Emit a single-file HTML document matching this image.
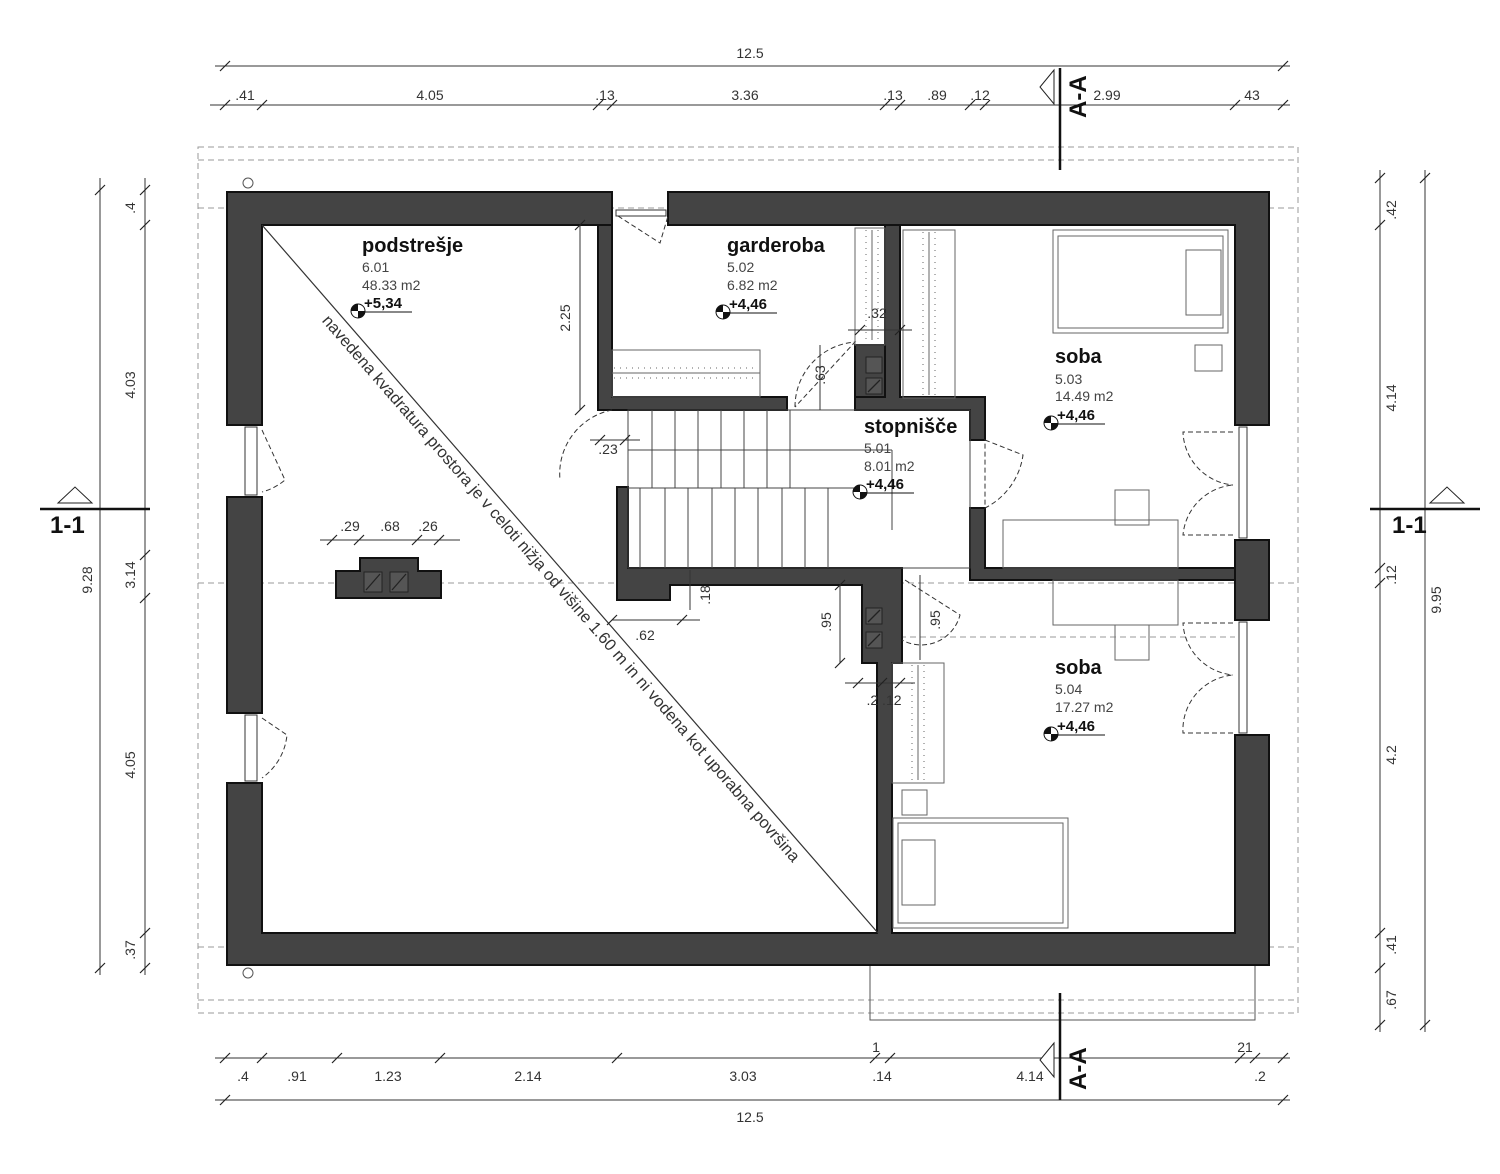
<!DOCTYPE html>
<html><head><style>body{margin:0;background:#fff}svg{display:block}</style></head><body>
<svg width="1500" height="1174" viewBox="0 0 1500 1174" xmlns="http://www.w3.org/2000/svg" font-family="Liberation Sans, sans-serif">
<rect width="1500" height="1174" fill="#fff"/>
<g fill="none" stroke="#999" stroke-width="1" stroke-dasharray="6,4">
<rect x="198" y="147" width="1100" height="866"/>
<line x1="198" y1="160" x2="1298" y2="160"/>
<line x1="198" y1="1000" x2="1298" y2="1000"/>
<line x1="198" y1="208" x2="1298" y2="208"/>
<line x1="198" y1="947" x2="1298" y2="947"/>
<line x1="198" y1="583" x2="1298" y2="583"/>
<line x1="900" y1="637" x2="1235" y2="637"/>
</g>
<circle cx="248" cy="183" r="5" fill="none" stroke="#555"/>
<circle cx="248" cy="973" r="5" fill="none" stroke="#555"/>
<rect x="870" y="965" width="385" height="55" fill="none" stroke="#555"/>
<g fill="#444" stroke="#111" stroke-width="2">
<path d="M227 192 H612 V225 H262 V425 H227 Z"/>
<path d="M668 192 H1269 V425 H1235 V225 H668 Z"/>
<path d="M227 497 H262 V713 H227 Z"/>
<path d="M227 783 H262 V933 H877 V663 H862 V585 H670 V600 H617 V487 H628 V568 H902 V663 H892 V933 H1235 V735 H1269 V965 H227 Z"/>
<path d="M1235 540 H1269 V620 H1235 Z"/>
<path d="M598 225 H612 V397 H787 V410 H598 Z"/>
<path d="M855 397 H885 V225 H900 V397 H985 V440 H970 V410 H855 Z"/>
<path d="M970 508 H985 V568 H1235 V580 H970 Z"/>
<path d="M336 571 H360 V558 H418 V571 H441 V598 H336 Z"/>
<path d="M855 345 H885 V397 H855 Z"/>
</g>
<g fill="#555" stroke="#222">
<rect x="364" y="572" width="18" height="20"/><rect x="390" y="572" width="18" height="20"/>
<rect x="866" y="357" width="16" height="16"/><rect x="866" y="378" width="16" height="16"/>
<rect x="866" y="608" width="16" height="16"/><rect x="866" y="632" width="16" height="16"/>
</g>
<g stroke="#222" stroke-width="1.3">
<line x1="366" y1="590" x2="380" y2="574"/><line x1="392" y1="590" x2="406" y2="574"/>
<line x1="868" y1="392" x2="880" y2="380"/><line x1="868" y1="622" x2="880" y2="610"/><line x1="868" y1="646" x2="880" y2="634"/>
</g>
<g fill="#fff" stroke="#333" stroke-width="1">
<rect x="245" y="427" width="12" height="68"/><rect x="245" y="715" width="12" height="66"/>
<rect x="616" y="210" width="50" height="6"/>
<rect x="1239" y="427" width="8" height="111"/><rect x="1239" y="622" width="8" height="111"/>
</g>
<g fill="none" stroke="#333" stroke-width="1" stroke-dasharray="5,3">
<path d="M262 430 L285 480 A60 60 0 0 1 262 492"/>
<path d="M262 718 L287 735 A60 60 0 0 1 262 778"/>
<path d="M618 216 L660 243 L668 216"/>
<path d="M795 407 A65 65 0 0 1 855 342 L795 407"/>
<path d="M612 410 A65 65 0 0 0 560 480"/>
<path d="M985 440 L1023 455 A70 70 0 0 1 985 508 Z"/>
<path d="M1233 432 H1183 A55 55 0 0 0 1233 485"/>
<path d="M1233 535 H1183 A55 55 0 0 1 1233 485"/>
<path d="M1233 623 H1183 A55 55 0 0 0 1233 675"/>
<path d="M1233 733 H1183 A55 55 0 0 1 1233 675"/>
<path d="M905 580 L960 615 A40 40 0 0 1 902 640"/>
</g>
<g fill="none" stroke="#444" stroke-width="1">
<rect x="628" y="410" width="342" height="158"/>
<line x1="628" y1="488" x2="860" y2="488"/>
<path d="M652 410V488M675 410V488M698 410V488M721 410V488M744 410V488M767 410V488M790 410V488"/>
<path d="M640 488V568M665 488V568M688 488V568M712 488V568M735 488V568M758 488V568M782 488V568M805 488V568M828 488V568"/>
<line x1="628" y1="450" x2="892" y2="450"/><line x1="892" y1="450" x2="892" y2="530"/>
</g>
<g fill="none" stroke="#666" stroke-width="1">
<rect x="612" y="350" width="148" height="47"/><line x1="612" y1="373" x2="760" y2="373"/>
<rect x="855" y="228" width="30" height="117"/><line x1="872" y1="230" x2="872" y2="340"/>
<rect x="903" y="230" width="52" height="168"/><line x1="929" y1="232" x2="929" y2="395"/>
<rect x="1053" y="230" width="175" height="103"/><rect x="1058" y="236" width="165" height="92"/>
<rect x="1186" y="250" width="35" height="65"/><rect x="1195" y="345" width="27" height="26"/>
<rect x="1003" y="520" width="175" height="48"/><rect x="1115" y="490" width="34" height="35"/>
<rect x="1053" y="580" width="125" height="45"/><rect x="1115" y="625" width="34" height="35"/>
<rect x="892" y="663" width="52" height="120"/><line x1="918" y1="665" x2="918" y2="780"/>
<rect x="902" y="790" width="25" height="25"/>
<rect x="893" y="818" width="175" height="110"/><rect x="898" y="823" width="165" height="100"/>
<rect x="902" y="840" width="33" height="65"/>
</g>
<g stroke="#666" stroke-width="1" stroke-dasharray="1,5" >
<line x1="866" y1="230" x2="866" y2="340"/><line x1="878" y1="230" x2="878" y2="340"/>
<line x1="923" y1="232" x2="923" y2="395"/><line x1="935" y1="232" x2="935" y2="395"/>
<line x1="912" y1="665" x2="912" y2="780"/><line x1="924" y1="665" x2="924" y2="780"/>
<line x1="614" y1="368" x2="758" y2="368"/><line x1="614" y1="378" x2="758" y2="378"/>
</g>
<line x1="262" y1="225" x2="878" y2="933" stroke="#333" stroke-width="1.2"/>
<text x="557" y="592" font-size="16.5" fill="#333" text-anchor="middle" transform="rotate(49 557 592)">navedena kvadratura prostora je v celoti nižja od višine 1.60 m in ni vodena kot uporabna površina</text>
<g fill="#111">
<text x="362" y="252" font-size="20" font-weight="bold">podstrešje</text>
<text x="362" y="272" font-size="14" fill="#444">6.01</text>
<text x="362" y="290" font-size="14" fill="#444">48.33 m2</text>
<text x="364" y="308" font-size="15" font-weight="bold">+5,34</text>
<text x="727" y="252" font-size="20" font-weight="bold">garderoba</text>
<text x="727" y="272" font-size="14" fill="#444">5.02</text>
<text x="727" y="290" font-size="14" fill="#444">6.82 m2</text>
<text x="729" y="309" font-size="15" font-weight="bold">+4,46</text>
<text x="864" y="433" font-size="20" font-weight="bold">stopnišče</text>
<text x="864" y="453" font-size="14" fill="#444">5.01</text>
<text x="864" y="471" font-size="14" fill="#444">8.01 m2</text>
<text x="866" y="489" font-size="15" font-weight="bold">+4,46</text>
<text x="1055" y="363" font-size="20" font-weight="bold">soba</text>
<text x="1055" y="384" font-size="14" fill="#444">5.03</text>
<text x="1055" y="401" font-size="14" fill="#444">14.49 m2</text>
<text x="1057" y="420" font-size="15" font-weight="bold">+4,46</text>
<text x="1055" y="674" font-size="20" font-weight="bold">soba</text>
<text x="1055" y="694" font-size="14" fill="#444">5.04</text>
<text x="1055" y="712" font-size="14" fill="#444">17.27 m2</text>
<text x="1057" y="731" font-size="15" font-weight="bold">+4,46</text>
</g>
<g stroke="#111" stroke-width="1">
<line x1="364" y1="312" x2="412" y2="312"/><line x1="729" y1="313" x2="777" y2="313"/>
<line x1="866" y1="493" x2="914" y2="493"/><line x1="1057" y1="424" x2="1105" y2="424"/><line x1="1057" y1="735" x2="1105" y2="735"/>
</g>
<g>
<circle cx="358" cy="311" r="7" fill="#fff" stroke="#111"/><path d="M358 311 V304 A7 7 0 0 0 351 311Z M358 311 V318 A7 7 0 0 0 365 311Z" fill="#111"/>
<circle cx="723" cy="312" r="7" fill="#fff" stroke="#111"/><path d="M723 312 V305 A7 7 0 0 0 716 312Z M723 312 V319 A7 7 0 0 0 730 312Z" fill="#111"/>
<circle cx="860" cy="492" r="7" fill="#fff" stroke="#111"/><path d="M860 492 V485 A7 7 0 0 0 853 492Z M860 492 V499 A7 7 0 0 0 867 492Z" fill="#111"/>
<circle cx="1051" cy="423" r="7" fill="#fff" stroke="#111"/><path d="M1051 423 V416 A7 7 0 0 0 1044 423Z M1051 423 V430 A7 7 0 0 0 1058 423Z" fill="#111"/>
<circle cx="1051" cy="734" r="7" fill="#fff" stroke="#111"/><path d="M1051 734 V727 A7 7 0 0 0 1044 734Z M1051 734 V741 A7 7 0 0 0 1058 734Z" fill="#111"/>
</g>
<g stroke="#333" stroke-width="1" fill="none">
<line x1="215" y1="66" x2="1290" y2="66"/>
<line x1="210" y1="105" x2="1290" y2="105"/>
<line x1="215" y1="1058" x2="1290" y2="1058"/>
<line x1="215" y1="1100" x2="1290" y2="1100"/>
<line x1="100" y1="178" x2="100" y2="975"/>
<line x1="145" y1="178" x2="145" y2="975"/>
<line x1="1380" y1="170" x2="1380" y2="1032"/>
<line x1="1425" y1="170" x2="1425" y2="1032"/>
<line x1="580" y1="225" x2="580" y2="410"/>
<line x1="320" y1="540" x2="460" y2="540"/>
<line x1="612" y1="620" x2="700" y2="620"/>
<line x1="590" y1="440" x2="640" y2="440"/>
<line x1="848" y1="330" x2="912" y2="330"/>
<line x1="840" y1="585" x2="840" y2="663"/>
<line x1="845" y1="683" x2="915" y2="683"/>
<line x1="820" y1="345" x2="820" y2="410"/>
<line x1="920" y1="575" x2="920" y2="660"/>
<line x1="690" y1="570" x2="690" y2="610"/>
</g>
<g stroke="#222" stroke-width="1.2" fill="none">
<path d="M220 71l10-10M257 110l10-10M593 110l10-10M607 110l10-10M880 110l10-10M895 110l10-10M965 110l10-10M980 110l10-10M1230 110l10-10M1278 110l10-10M220 110l10-10M1278 71l10-10"/>
<path d="M220 1063l10-10M257 1063l10-10M332 1063l10-10M435 1063l10-10M612 1063l10-10M870 1063l10-10M885 1063l10-10M1235 1063l10-10M1250 1063l10-10M1278 1063l10-10M220 1105l10-10M1278 1105l10-10"/>
<path d="M95 195l10-10M95 973l10-10M140 195l10-10M140 230l10-10M140 560l10-10M140 603l10-10M140 938l10-10M140 973l10-10"/>
<path d="M1375 183l10-10M1375 230l10-10M1375 573l10-10M1375 588l10-10M1375 938l10-10M1375 973l10-10M1375 1030l10-10M1420 183l10-10M1420 1030l10-10"/>
<path d="M575 230l10-10M575 415l10-10M327 545l10-10M354 545l10-10M412 545l10-10M434 545l10-10M607 625l10-10M677 625l10-10M835 590l10-10M835 668l10-10M853 688l10-10M877 688l10-10M895 688l10-10M855 335l10-10M895 335l10-10M595 445l10-10M620 445l10-10"/>
</g>
<g font-size="14" fill="#333" text-anchor="middle">
<text x="750" y="58">12.5</text>
<text x="245" y="100">.41</text><text x="430" y="100">4.05</text><text x="605" y="100">.13</text><text x="745" y="100">3.36</text>
<text x="893" y="100">.13</text><text x="937" y="100">.89</text><text x="980" y="100">.12</text><text x="1107" y="100">2.99</text><text x="1252" y="100">43</text>
<text x="243" y="1081">.4</text><text x="297" y="1081">.91</text><text x="388" y="1081">1.23</text><text x="528" y="1081">2.14</text><text x="743" y="1081">3.03</text>
<text x="882" y="1081">.14</text><text x="1030" y="1081">4.14</text><text x="1260" y="1081">.2</text>
<text x="876" y="1052">1</text><text x="1245" y="1052">21</text>
<text x="750" y="1122">12.5</text>
<text x="350" y="531">.29</text><text x="390" y="531">.68</text><text x="428" y="531">.26</text>
<text x="645" y="640">.62</text><text x="608" y="454">.23</text><text x="877" y="318">.32</text><text x="884" y="705">.2  .12</text>
<g transform="rotate(-90)">
<text x="-208" y="135">.4</text><text x="-385" y="135">4.03</text><text x="-575" y="135">3.14</text><text x="-765" y="135">4.05</text><text x="-950" y="135">.37</text>
<text x="-580" y="92">9.28</text>
<text x="-210" y="1396">.42</text><text x="-398" y="1396">4.14</text><text x="-575" y="1396">.12</text><text x="-755" y="1396">4.2</text><text x="-945" y="1396">.41</text><text x="-1000" y="1396">.67</text>
<text x="-600" y="1441">9.95</text>
<text x="-318" y="570">2.25</text><text x="-375" y="825">.63</text><text x="-622" y="831">.95</text><text x="-620" y="940">.95</text><text x="-595" y="710">.18</text>
</g>
</g>
<g stroke="#111" stroke-width="2.5">
<line x1="40" y1="509" x2="150" y2="509"/><line x1="1370" y1="509" x2="1480" y2="509"/>
<line x1="1060" y1="68" x2="1060" y2="170"/><line x1="1060" y1="993" x2="1060" y2="1100"/>
</g>
<g fill="#fff" stroke="#222" stroke-width="1">
<path d="M58 503 L75 487 L92 503Z"/><path d="M1430 503 L1447 487 L1464 503Z"/>
<path d="M1054 70 L1040 87 L1054 104Z"/><path d="M1054 1043 L1040 1060 L1054 1077Z"/>
</g>
<g font-size="24" font-weight="bold" fill="#111">
<text x="50" y="533">1-1</text><text x="1392" y="533">1-1</text>
<text transform="translate(1086,118) rotate(-90)">A-A</text>
<text transform="translate(1086,1090) rotate(-90)">A-A</text>
</g>
</svg>
</body></html>
